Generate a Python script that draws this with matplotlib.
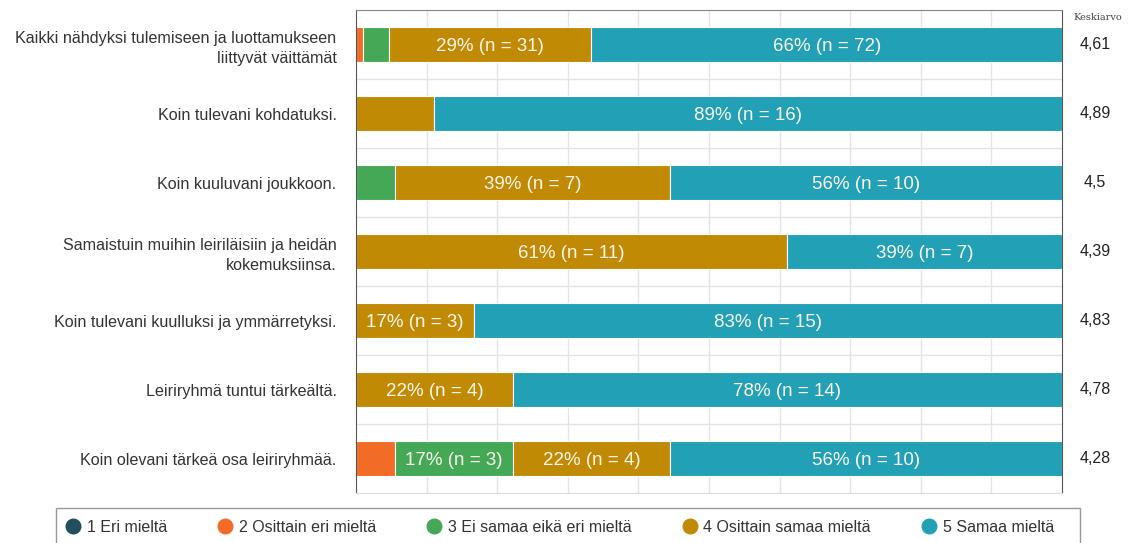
import numpy as np
import matplotlib.pyplot as plt
from matplotlib.lines import Line2D
from matplotlib.patches import Rectangle

plt.rcParams['font.family'] = ['Liberation Sans', 'DejaVu Sans']

questions = [
    "Kaikki nähdyksi tulemiseen ja luottamukseen\nliittyvät väittämät",
    "Koin tulevani kohdatuksi.",
    "Koin kuuluvani joukkoon.",
    "Samaistuin muihin leiriläisiin ja heidän\nkokemuksiinsa.",
    "Koin tulevani kuulluksi ja ymmärretyksi.",
    "Leiriryhmä tuntui tärkeältä.",
    "Koin olevani tärkeä osa leiriryhmää.",
]
categories = ["1 Eri mieltä", "2 Osittain eri mieltä", "3 Ei samaa eikä eri mieltä",
              "4 Osittain samaa mieltä", "5 Samaa mieltä"]
colors = ["#234e5d", "#f26b27", "#45a857", "#c18a04", "#22a1b6"]

# counts per answer 1..5
counts = [
    [0, 1, 4, 31, 72],
    [0, 0, 0, 2, 16],
    [0, 0, 1, 7, 10],
    [0, 0, 0, 11, 7],
    [0, 0, 0, 3, 15],
    [0, 0, 0, 4, 14],
    [0, 1, 3, 4, 10],
]
# percentages as shown in the chart
pcts = [
    [0, 1, 4, 29, 66],
    [0, 0, 0, 11, 89],
    [0, 0, 6, 39, 56],
    [0, 0, 0, 61, 39],
    [0, 0, 0, 17, 83],
    [0, 0, 0, 22, 78],
    [0, 6, 17, 22, 56],
]
means = ["4,61", "4,89", "4,5", "4,39", "4,83", "4,78", "4,28"]

fig = plt.figure(figsize=(11.3, 5.43), dpi=100)
ax = fig.add_axes([356/1130, 1-493/543, 706/1130, 483/543])

y = np.arange(len(questions))
for i in range(len(questions)):
    c = np.array(counts[i], dtype=float)
    w = c / c.sum() * 100
    left = 0
    for k in range(5):
        if w[k] > 0:
            ax.barh(y[i], w[k], left=left, height=0.5, color=colors[k],
                    edgecolor='white', linewidth=0.8, zorder=3)
            if w[k] >= 12:
                ax.text(left + w[k]/2, y[i] + 0.03, f"{pcts[i][k]}% (n = {counts[i][k]})",
                        ha='center', va='center', color='#fbf6ea', fontsize=13.5, zorder=4)
        left += w[k]
    ax.text(1.0 + 33/706, y[i], means[i], transform=ax.get_yaxis_transform(),
            ha='center', va='center', fontsize=11.5, color='#222')

ax.text(1.0 + 36/706, 1 - 7/483, "Keskiarvo", transform=ax.transAxes,
        ha='center', va='center', fontsize=7, family='DejaVu Serif', color='#444')

ax.set_xlim(0, 100)
ax.set_ylim(len(questions) - 0.5, -0.5)
ax.set_xticks(np.arange(10, 100, 10))
ax.set_xticklabels([])
ax.set_yticks(y)
ax.set_yticklabels(questions, fontsize=11.6, color='#333')
ax.set_yticks(np.arange(0.5, len(questions) - 1, 1), minor=True)
ax.tick_params(axis='both', which='both', length=0)
ax.tick_params(axis='y', pad=14)
ax.grid(True, axis='x', color='#e4e4e4', linewidth=1, zorder=0)
ax.grid(True, axis='y', which='minor', color='#e4e4e4', linewidth=1, zorder=0)
ax.grid(False, axis='y', which='major')
for lab in ax.get_yticklabels():
    lab.set_multialignment('right')
    lab.set_linespacing(1.45)

for s in ax.spines.values():
    s.set_zorder(6)
ax.spines['left'].set_color('#555555')
ax.spines['right'].set_color('#555555')
ax.spines['top'].set_color('#888888')
ax.spines['bottom'].set_color('#dddddd')

# legend
fig.patches.append(Rectangle((56/1130, -0.05), 1024/1130, 0.05 + 1 - 508/543,
                             transform=fig.transFigure, fill=False,
                             edgecolor='#999999', linewidth=1))
handles = [Line2D([0], [0], marker='o', linestyle='none', markersize=10.5,
                  markerfacecolor=colors[k], markeredgecolor=colors[k]) for k in range(5)]
fig.legend(handles, categories, loc='center left', bbox_to_anchor=(57/1130, 1 - 527/543),
           ncol=5, frameon=False, fontsize=11.5, handletextpad=0.25, columnspacing=3.05,
           handlelength=1.2, borderaxespad=0, labelcolor='#333')

fig.savefig("out.png", dpi=100)
